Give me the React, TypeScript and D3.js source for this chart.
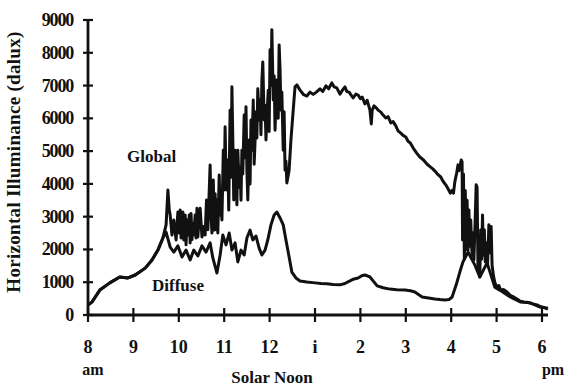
import React from 'react';
import * as d3 from 'd3';

// [hour of day (8 = 8am, 13 = 1pm), horizontal illuminance in dalux]
const globalSeries: [number, number][] = [
    [8.0, 300], [8.09, 400], [8.26, 760], [8.48, 980], [8.7, 1160], [8.88, 1130], [9.04, 1220], [9.26, 1430],
    [9.41, 1680], [9.54, 1980], [9.65, 2350], [9.72, 2750], [9.76, 3810], [9.79, 3200], [9.81, 3050], [9.85, 2440],
    [9.89, 2900], [9.94, 2290], [9.98, 3140], [10.01, 2500], [10.03, 3200], [10.05, 2350], [10.07, 2600], [10.09, 3140],
    [10.11, 2290], [10.14, 3050], [10.16, 2140], [10.18, 2900], [10.2, 2440], [10.23, 3050], [10.25, 2200], [10.27, 3100],
    [10.29, 2300], [10.31, 2800], [10.33, 2440], [10.36, 3050], [10.38, 2350], [10.4, 3260], [10.42, 2380], [10.45, 3000],
    [10.47, 3260], [10.51, 2380], [10.55, 2700], [10.58, 2440], [10.61, 3510], [10.64, 2600], [10.69, 4580], [10.71, 3050],
    [10.73, 2500], [10.76, 4120], [10.78, 2590], [10.8, 3700], [10.82, 2600], [10.84, 3510], [10.86, 2500], [10.89, 4270],
    [10.91, 3050], [10.93, 3300], [10.95, 2900], [10.98, 5030], [11.0, 3810], [11.02, 5740], [11.04, 4200], [11.06, 3810],
    [11.08, 4730], [11.1, 3200], [11.13, 6250], [11.15, 4200], [11.17, 6960], [11.19, 5340], [11.21, 3510], [11.24, 5030],
    [11.26, 4120], [11.28, 3360], [11.3, 5030], [11.33, 3900], [11.35, 4500], [11.37, 3500], [11.39, 5030], [11.41, 4300],
    [11.44, 6100], [11.46, 4800], [11.48, 6350], [11.5, 4420], [11.52, 3510], [11.55, 5340], [11.57, 4000], [11.59, 5950],
    [11.61, 5030], [11.64, 6560], [11.66, 4600], [11.68, 5300], [11.7, 6200], [11.72, 5400], [11.74, 6900], [11.77, 5950],
    [11.79, 6560], [11.81, 5500], [11.83, 7170], [11.85, 7720], [11.88, 5950], [11.9, 6400], [11.92, 5340], [11.94, 6000],
    [11.97, 6860], [11.99, 5600], [12.01, 8090], [12.03, 7000], [12.05, 8700], [12.08, 6560], [12.1, 7300], [12.12, 5640],
    [12.14, 6500], [12.16, 7170], [12.19, 6000], [12.21, 8240], [12.23, 7500], [12.25, 6250], [12.27, 6800], [12.3, 5030],
    [12.32, 6200], [12.34, 4420], [12.36, 4700], [12.38, 4030], [12.43, 4420], [12.47, 5340], [12.52, 6250], [12.56, 6960],
    [12.6, 7020], [12.67, 6860], [12.75, 6720], [12.82, 6680], [12.89, 6800], [12.96, 6730], [13.03, 6800], [13.11, 6900],
    [13.17, 6820], [13.24, 6990], [13.3, 6900], [13.37, 7080], [13.42, 6960], [13.48, 6930], [13.55, 6740], [13.6, 6850],
    [13.66, 6960], [13.7, 6820], [13.75, 6800], [13.8, 6700], [13.84, 6620], [13.9, 6740], [13.95, 6710], [14.0, 6600],
    [14.04, 6650], [14.1, 6440], [14.15, 6550], [14.21, 6250], [14.24, 5830], [14.26, 6250], [14.3, 6380], [14.35, 6320],
    [14.39, 6250], [14.45, 6190], [14.5, 6100], [14.56, 6010], [14.61, 6050], [14.67, 5860], [14.72, 5900], [14.78, 5770],
    [14.83, 5620], [14.89, 5550], [14.94, 5480], [15.0, 5430], [15.05, 5300], [15.1, 5250], [15.16, 5100], [15.24, 4940],
    [15.31, 4820], [15.39, 4730], [15.47, 4600], [15.54, 4520], [15.6, 4450], [15.66, 4360], [15.71, 4280], [15.77, 4210],
    [15.82, 4080], [15.88, 3970], [15.93, 3850], [15.98, 3720], [16.02, 3800], [16.05, 3720], [16.08, 4060], [16.12, 4330],
    [16.15, 4580], [16.17, 4400], [16.19, 4500], [16.22, 4730], [16.24, 4670], [16.25, 2290], [16.27, 4300], [16.29, 1700],
    [16.31, 3800], [16.33, 2000], [16.35, 3500], [16.37, 1980], [16.39, 3200], [16.41, 2100], [16.43, 2900], [16.46, 1800],
    [16.48, 2500], [16.5, 1680], [16.53, 3000], [16.55, 3970], [16.57, 3900], [16.59, 1370], [16.61, 2300], [16.63, 1160],
    [16.65, 2590], [16.67, 1700], [16.69, 3050], [16.71, 1830], [16.73, 2600], [16.75, 1620], [16.78, 2200], [16.8, 1500],
    [16.83, 2750], [16.85, 1900], [16.88, 2700], [16.9, 1530], [16.93, 1200], [16.96, 1000], [17.0, 850], [17.05, 900],
    [17.09, 760], [17.15, 780], [17.23, 700], [17.3, 600], [17.36, 560], [17.45, 490], [17.52, 420], [17.6, 400],
    [17.7, 380], [17.8, 340], [17.89, 310], [17.96, 260], [18.04, 230], [18.13, 180],
];

const diffuseSeries: [number, number][] = [
    [8.0, 300], [8.09, 400], [8.26, 760], [8.48, 980], [8.7, 1160], [8.88, 1130], [9.04, 1220], [9.26, 1430],
    [9.41, 1680], [9.54, 1980], [9.65, 2350], [9.72, 2530], [9.81, 2070], [9.89, 1920], [9.98, 2110], [10.07, 1770],
    [10.16, 1980], [10.25, 1680], [10.33, 1980], [10.42, 1800], [10.51, 2110], [10.6, 1920], [10.69, 2200], [10.75, 1740],
    [10.84, 1280], [10.91, 1830], [10.97, 2440], [11.04, 2140], [11.11, 2500], [11.17, 1980], [11.24, 2200], [11.3, 1620],
    [11.37, 1980], [11.44, 1830], [11.5, 2350], [11.57, 2590], [11.63, 2290], [11.7, 2410], [11.77, 2040], [11.83, 1830],
    [11.9, 1980], [11.96, 2290], [12.03, 2750], [12.1, 3050], [12.16, 3140], [12.23, 2960], [12.3, 2750], [12.36, 2290],
    [12.43, 1770], [12.49, 1310], [12.58, 1130], [12.67, 1040], [12.82, 1010], [13.0, 980], [13.13, 960], [13.26, 950],
    [13.4, 930], [13.55, 920], [13.66, 960], [13.77, 1040], [13.86, 1100], [13.95, 1130], [14.03, 1200], [14.1, 1220],
    [14.21, 1160], [14.37, 890], [14.5, 830], [14.65, 790], [14.8, 770], [14.98, 760], [15.1, 740], [15.2, 700],
    [15.36, 550], [15.5, 520], [15.64, 490], [15.75, 470], [15.86, 460], [15.95, 470], [16.02, 550], [16.11, 920],
    [16.19, 1310], [16.26, 1620], [16.37, 1920], [16.52, 1530], [16.63, 1160], [16.79, 1590], [16.96, 850], [17.07, 760],
    [17.3, 550], [17.52, 400], [17.74, 370], [17.96, 240], [18.13, 210],
];

const yTicks = [0, 1000, 2000, 3000, 4000, 5000, 6000, 7000, 8000, 9000];
const xTicks = [8, 9, 10, 11, 12, 13, 14, 15, 16, 17, 18];
const xTickLabels = ['8', '9', '10', '11', '12', 'i', '2', '3', '4', '5', '6'];

const ink = '#111';
const serif = '"Liberation Serif", "DejaVu Serif", serif';

function App() {
    const width = 569;
    const height = 388;

    const x = d3.scaleLinear().domain([8, 18]).range([88, 542]);
    const y = d3.scaleLinear().domain([0, 9000]).range([315, 20]);

    const line = d3.line<[number, number]>()
        .x(d => x(d[0]))
        .y(d => y(d[1]));

    return (
        <svg width={width} height={height} style={{position: 'absolute', left: 0, top: 0, background: '#fff'}}>
            {/* axes */}
            <line x1={x(8)} x2={548} y1={y(0)} y2={y(0)} stroke={ink} strokeWidth={2.8} />
            <line x1={x(8)} x2={x(8)} y1={y(9000)} y2={y(0)} stroke={ink} strokeWidth={2.8} />
            {yTicks.map(t => (
                <g key={t}>
                    <line x1={x(8) - 5} x2={x(8) + 5} y1={y(t)} y2={y(t)} stroke={ink} strokeWidth={2.2} />
                    <text x={73} y={y(t) + 6} textAnchor="end" fontFamily={serif} fontWeight="bold"
                        fontSize={18} letterSpacing={-1.2} fill={ink}>{t}</text>
                </g>
            ))}
            {xTicks.map((t, i) => (
                <g key={t}>
                    <line x1={x(t)} x2={x(t)} y1={y(0) - 7} y2={y(0) + 7} stroke={ink} strokeWidth={2.2} />
                    <text x={x(t)} y={353} textAnchor="middle" fontFamily={serif} fontWeight="bold"
                        fontSize={18} fill={ink}>{xTickLabels[i]}</text>
                </g>
            ))}
            <text x={93} y={375} textAnchor="middle" fontFamily={serif} fontWeight="bold" fontSize={16} fill={ink}>am</text>
            <text x={553} y={375} textAnchor="middle" fontFamily={serif} fontWeight="bold" fontSize={16} fill={ink}>pm</text>
            <text x={272} y={383} textAnchor="middle" fontFamily={serif} fontWeight="bold" fontSize={17} fill={ink}>Solar Noon</text>
            <text transform="translate(20,162) rotate(-90)" textAnchor="middle" fontFamily={serif} fontWeight="bold"
                fontSize={19} letterSpacing={0.3} fill={ink}>Horizontal Illuminance (dalux)</text>

            {/* series */}
            <path d={line(diffuseSeries) || ''} fill="none" stroke={ink} strokeWidth={3} strokeLinejoin="round" />
            <path d={line(globalSeries) || ''} fill="none" stroke={ink} strokeWidth={3} strokeLinejoin="round" />

            <text x={127} y={162} fontFamily={serif} fontWeight="bold" fontSize={17} fill={ink}>Global</text>
            <text x={152} y={291} fontFamily={serif} fontWeight="bold" fontSize={17} fill={ink}>Diffuse</text>
        </svg>
    );
}

export default App;
